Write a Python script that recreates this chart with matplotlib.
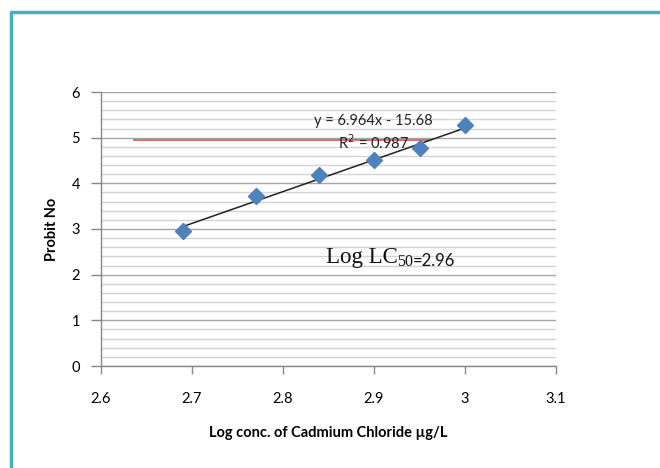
import matplotlib
matplotlib.use("Agg")
import matplotlib.pyplot as plt
from matplotlib.lines import Line2D
import numpy as np

# Data
log_conc = [2.69, 2.77, 2.84, 2.90, 2.95, 3.00]
probit = [2.96, 3.72, 4.18, 4.51, 4.77, 5.27]
slope, intercept = 6.964, -15.68
r_squared = 0.987
lc50_x = [2.636, 2.962]
lc50_y = [4.94, 4.94]
x_ticks = [2.6, 2.7, 2.8, 2.9, 3.0, 3.1]
x_tick_labels = ["2.6", "2.7", "2.8", "2.9", "3", "3.1"]
y_ticks = [0, 1, 2, 3, 4, 5, 6]

plt.rcParams['font.family'] = ['Lato', 'DejaVu Sans']

fig = plt.figure(figsize=(6.6, 4.68), dpi=100)
ax = fig.add_axes([101/660, 1-366/468, 455/660, 274/468])

# frame border (teal)
teal = '#4BACC6'
fig.add_artist(Line2D([11/660, 11/660], [0, 1-11/468], color=teal, lw=2.5, transform=fig.transFigure, solid_capstyle='butt'))
fig.add_artist(Line2D([10/660, 1], [1-12/468, 1-12/468], color=teal, lw=2.5, transform=fig.transFigure, solid_capstyle='butt'))

ax.set_xlim(2.6, 3.1)
ax.set_ylim(0, 6)

# gridlines
ax.set_yticks(y_ticks)
ax.set_yticks(np.arange(0, 6.01, 0.2), minor=True)
ax.yaxis.grid(True, which='major', color='#A6A6A6', lw=1.0)
ax.yaxis.grid(True, which='minor', color='#D4D4D4', lw=1.0)
ax.set_axisbelow(True)
ax.tick_params(axis='y', which='minor', length=0)

ax.set_xticks(x_ticks)
ax.set_xticklabels(x_tick_labels)
ax.tick_params(axis='x', which='major', direction='out', length=6, width=1, color='#888888', pad=13, labelsize=10.5)
ax.tick_params(axis='y', which='major', direction='out', length=7, width=1, color='#888888', pad=8, labelsize=10.5)

for s in ['top', 'right']:
    ax.spines[s].set_visible(False)
for s in ['left', 'bottom']:
    ax.spines[s].set_color('#888888')
    ax.spines[s].set_linewidth(1.0)

# LC50 red line
ax.plot(lc50_x, lc50_y, color='#D9534F', lw=1.2, zorder=2)

# trendline
xt = np.array([log_conc[0], log_conc[-1]])
ax.plot(xt, slope*xt + intercept, color='#222222', lw=1.1, zorder=3)

# points
ax.plot(log_conc, probit, linestyle='none', marker='D', markersize=8,
        color='#4F81BD', markeredgecolor='#4F81BD', zorder=4)

# equation texts
ax.text(2.8995, 5.36, "y = 6.964x - 15.68", ha='center', va='center', fontsize=10.5, color='#222222', zorder=5)
ax.text(2.8995, 4.88, "R$^2$ = 0.987", ha='center', va='center', fontsize=10.5, color='#222222', zorder=5)

# Log LC50 annotation
ax.text(2.847, 2.25, "Log LC", fontsize=16.5, family='Liberation Serif', va='baseline', ha='left', color='#111111')
ax.text(2.9255, 2.20, "50", fontsize=11.5, family='Liberation Serif', va='baseline', ha='left', color='#111111')
ax.text(2.943, 2.20, "=2.96", fontsize=12, va='baseline', ha='left', color='#111111')

ax.set_xlabel("Log conc. of Cadmium Chloride \u00b5g/L", fontsize=10.5, fontweight='bold', labelpad=14)
ax.set_ylabel("Probit No", fontsize=10.5, fontweight='bold', labelpad=9)

fig.savefig("out.png", dpi=100)
